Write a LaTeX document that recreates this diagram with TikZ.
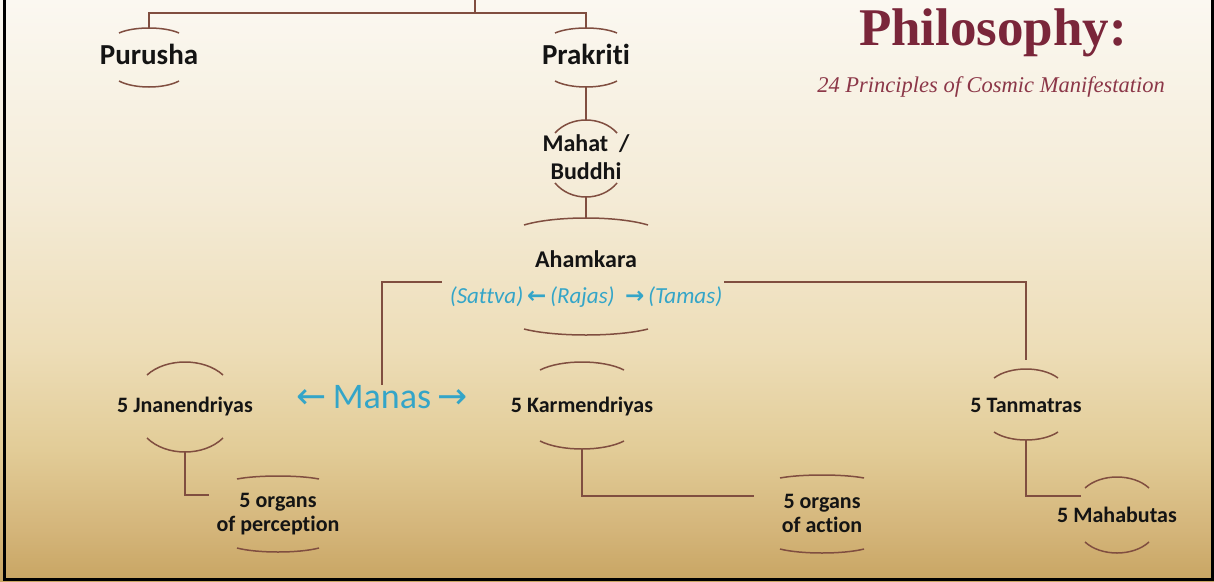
\documentclass[tikz,border=0pt]{standalone}
\usepackage{fontspec}
\setmainfont{Carlito}[Ligatures={NoCommon}]
\newfontfamily\titlefont{Liberation Serif}
\newfontfamily\arrowfont{DejaVu Sans}
\usetikzlibrary{calc}
\definecolor{brownline}{RGB}{128,78,64}
\definecolor{cyantext}{RGB}{52,165,200}
\definecolor{titlered}{RGB}{122,38,58}
\definecolor{subred}{RGB}{140,55,72}
\definecolor{textblack}{RGB}{20,20,20}
\definecolor{bgA}{HTML}{FBF8F1}
\definecolor{bgB}{HTML}{F4EBD6}
\definecolor{bgC}{HTML}{EDDDB7}
\definecolor{bgD}{HTML}{E2CC97}
\definecolor{bgE}{HTML}{D4B57A}
\definecolor{bgF}{HTML}{C8A563}
\pgfdeclareverticalshading{bgshade}{100bp}{color(0bp)=(bgF); color(25bp)=(bgF); color(29.4bp)=(bgE); color(36.3bp)=(bgD); color(44.9bp)=(bgC); color(57.8bp)=(bgB); color(75bp)=(bgA); color(100bp)=(bgA)}
\tikzset{
  bigname/.style={font=\bfseries\fontsize{29}{32}\selectfont, text=textblack, inner sep=0pt, text height=19pt, text depth=5pt},
  midname/.style={font=\bfseries\fontsize{24}{28}\selectfont, text=textblack, inner sep=0pt, align=center},
  smallname/.style={font=\bfseries\fontsize{22}{24}\selectfont, text=textblack, inner sep=0pt, align=center},
  conn/.style={draw=brownline, line width=1.6pt},
  arcline/.style={draw=brownline, line width=1.5pt},
}
% #1 node, #2 half width, #3 top end dy, #4 rise, #5 bottom end dy, #6 drop
\newcommand\lensarcs[6]{%
  \draw[arcline] ($(#1.center)+(-#2,-#3)$) .. controls +(#2/2,-4*#4/3) and +(-#2/2,-4*#4/3) .. ($(#1.center)+(#2,-#3)$);
  \draw[arcline] ($(#1.center)+(-#2,#5)$) .. controls +(#2/2,4*#6/3) and +(-#2/2,4*#6/3) .. ($(#1.center)+(#2,#5)$);
  \coordinate (#1-t) at ($(#1.center)+(0,-#3-#4)$);
  \coordinate (#1-b) at ($(#1.center)+(0,#5+#6)$);
}
\begin{document}
\begin{tikzpicture}[x=1pt,y=-1pt]
\useasboundingbox (0,0) rectangle (1214,581);
\shade[shading=bgshade] (0,0) rectangle (1214,581);
\draw[black, line width=3pt] (4.5,-5) -- (4.5,579.5) -- (1212.5,579.5) -- (1212.5,-5);

% title
\node[anchor=base, font=\titlefont\bfseries\fontsize{53}{60}\selectfont, text=titlered, inner sep=0pt] (title) at (993,45) {Philosophy:};
\node[anchor=base, font=\titlefont\itshape\fontsize{22.5}{26}\selectfont, text=subred, inner sep=0pt] (subtitle) at (991,92) {24 Principles of Cosmic Manifestation};

% nodes
\node[bigname] (purusha) at (149,57) {Purusha};
\node[bigname] (prakriti) at (586,57) {Prakriti};
\node[midname] (mahat) at (586,157) {Mahat~~/\\Buddhi};
\node[midname] (ahamkara) at (586,259) {Ahamkara};
\node[font=\itshape\fontsize{23}{26}\selectfont, text=cyantext, inner sep=0pt] (gunas) at (586,297) {(Sattva)\,{\arrowfont\upshape\bfseries\fontsize{23}{26}\selectfont ←}\,(Rajas)\ \ {\arrowfont\upshape\bfseries\fontsize{23}{26}\selectfont →}\,(Tamas)};
\node[smallname] (jnan) at (185,407) {5 Jnanendriyas};
\node[font=\fontsize{36}{40}\selectfont, text=cyantext, inner sep=0pt] (manas) at (382,397) {{\arrowfont ←}\,Manas\,{\arrowfont →}};
\node[smallname] (karm) at (582,407) {5 Karmendriyas};
\node[smallname] (tanm) at (1026,405) {5 Tanmatras};
\node[smallname] (perc) at (278,514) {5 organs\\of perception};
\node[smallname] (action) at (822,513) {5 organs\\of action};
\node[smallname] (maha) at (1117,515) {5 Mahabutas};

% lens arcs
\lensarcs{purusha}{30}{24}{5}{24}{6}
\lensarcs{prakriti}{31}{24}{5}{24}{6}
\lensarcs{mahat}{31}{24}{13}{26}{14}
\lensarcs{ahamkara}{62}{34}{7}{70}{6}
\lensarcs{jnan}{38}{32}{13}{31}{14}
\lensarcs{karm}{42}{37}{8}{34}{8}
\lensarcs{tanm}{32}{27}{9}{27}{8}
\lensarcs{perc}{41}{35}{3}{34}{4}
\lensarcs{action}{42}{35}{3}{36}{4}
\lensarcs{maha}{32}{27}{11}{27}{11}

% connectors
\coordinate (root) at (475,13);
\coordinate (rootup) at (475,-3);
\draw[conn] (rootup) -- (root);
\draw[conn] (root) -| (purusha-t);
\draw[conn] (root) -| (prakriti-t);
\draw[conn] (prakriti-b) -- (mahat-t);
\draw[conn] (mahat-b) -- (ahamkara-t);
\draw[conn] ($(gunas.west)+(-8,-15)$) -| (manas.north);
\draw[conn, shorten >=9pt] ($(gunas.east)+(2,-15)$) -| (tanm-t);
\draw[conn] (jnan-b) |- ($(perc.west)+(-7,-19)$);
\draw[conn] (karm-b) |- ($(action.west)+(-28,-17)$);
\draw[conn] (tanm-b) |- ($(maha.west)+(24,-19)$);
\end{tikzpicture}
\end{document}
